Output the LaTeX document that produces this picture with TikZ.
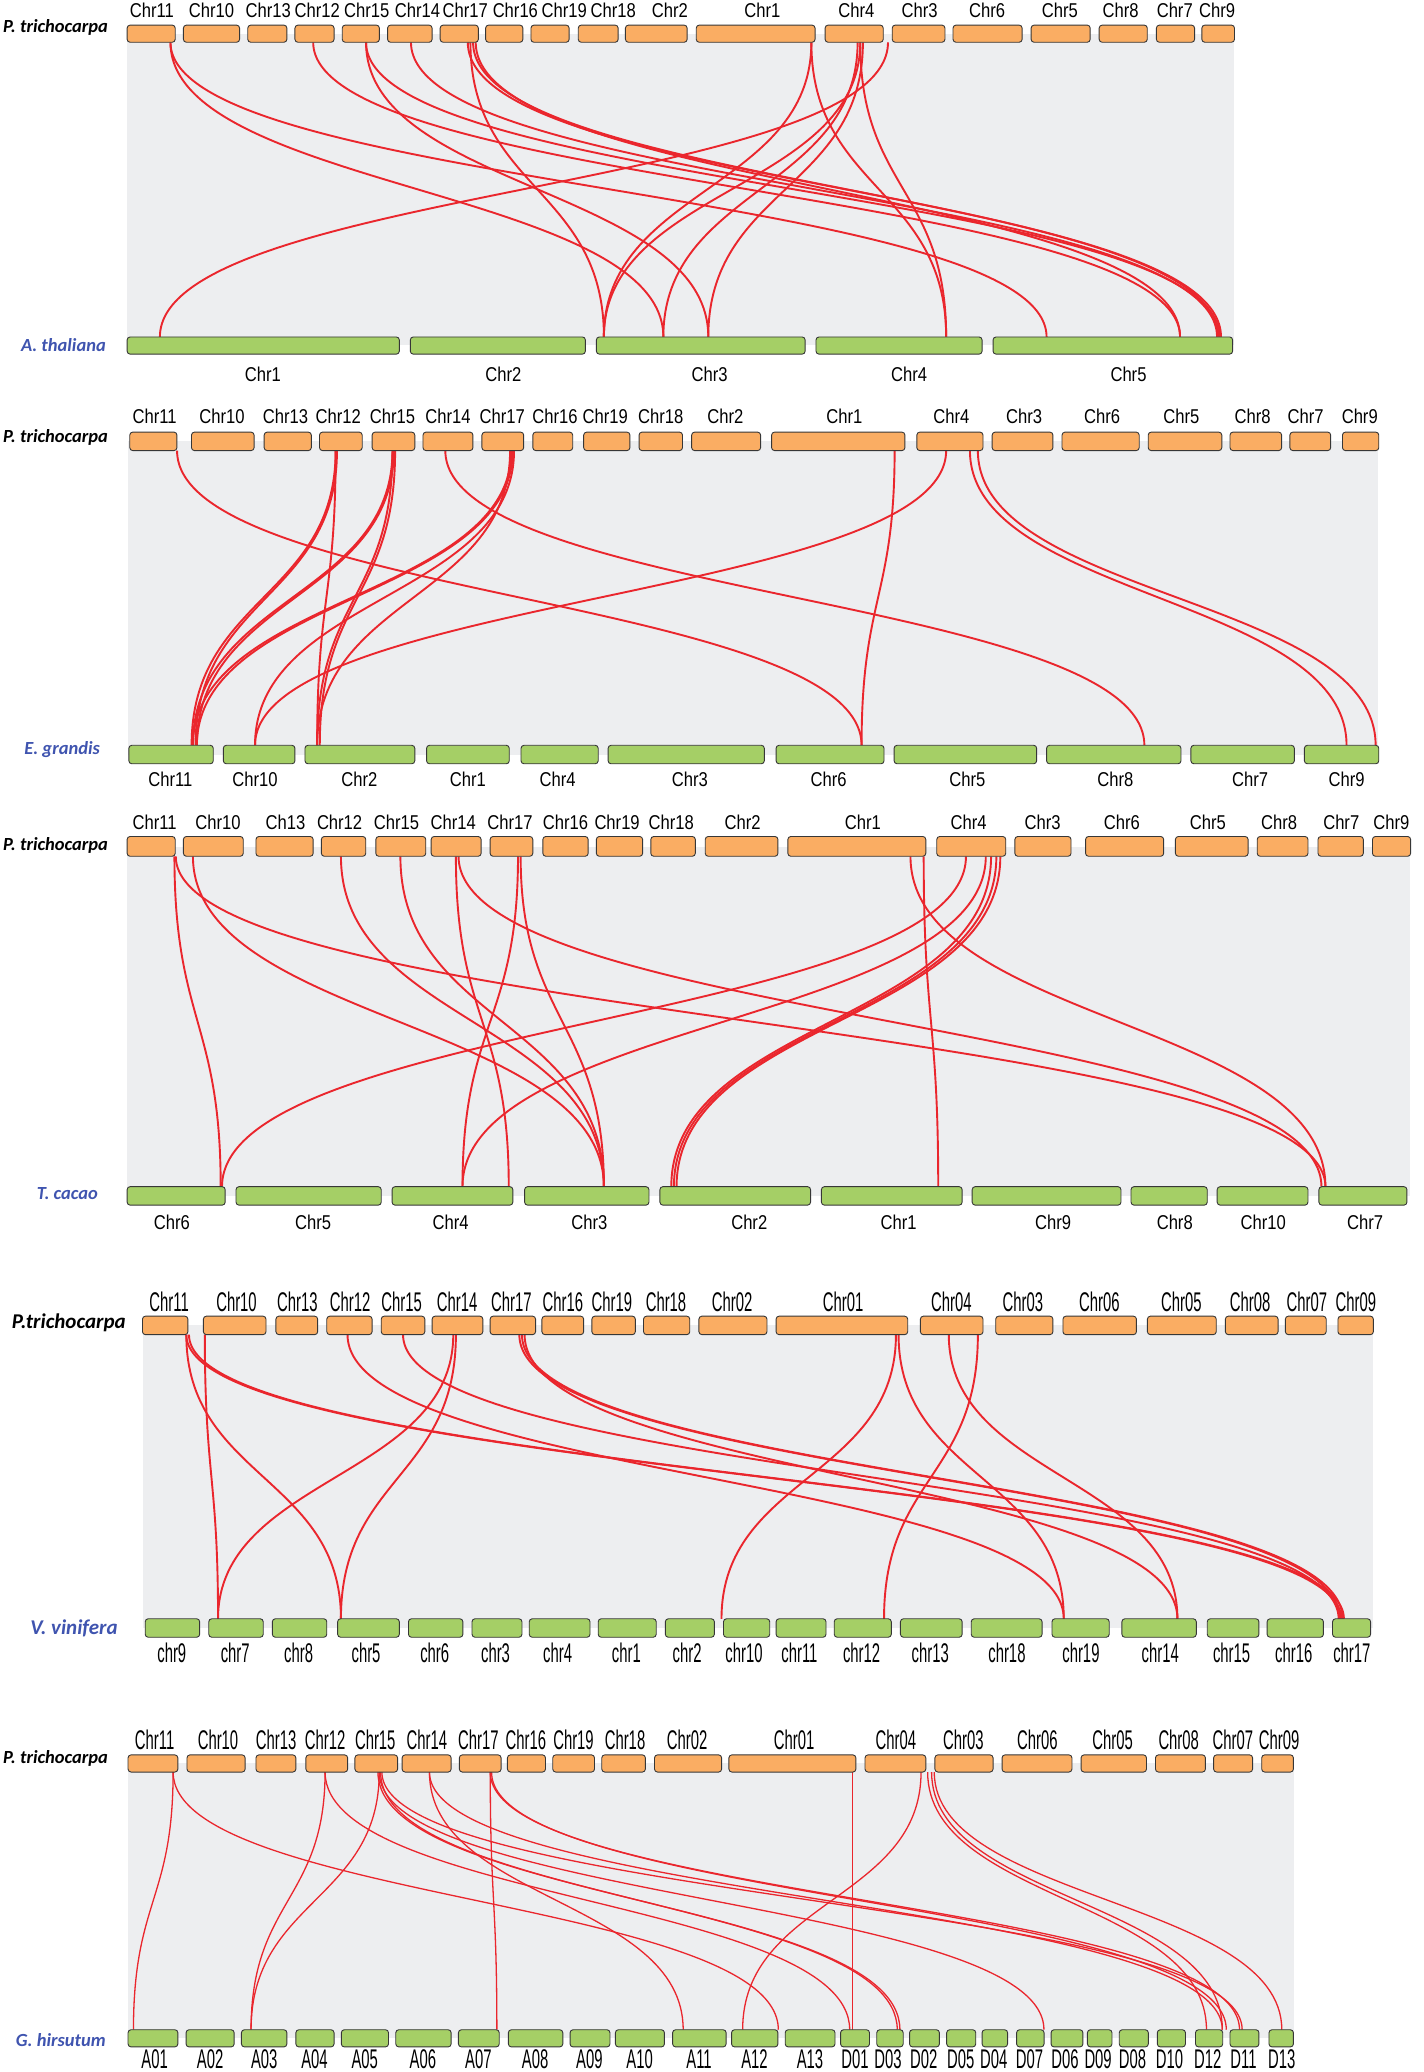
\documentclass[tikz,border=0pt]{standalone}
\usepackage{fontspec}
\setmainfont{Liberation Sans}
\newfontfamily\chrfont[FakeStretch=0.83]{Liberation Sans}
\newfontfamily\narrowfont[FakeStretch=0.55]{Liberation Sans}
\newfontfamily\spfont{Carlito}

\definecolor{porange}{RGB}{250,173,99}
\definecolor{ogreen}{RGB}{165,207,102}
\definecolor{synred}{RGB}{234,38,45}
\definecolor{bandgrey}{RGB}{237,238,240}
\definecolor{spblue}{RGB}{63,84,175}
\definecolor{boxline}{RGB}{55,55,55}

\tikzstyle{ptri} = [fill=porange, draw=boxline, line width=0.9pt, rounded corners=3pt]
\tikzstyle{other} = [fill=ogreen, draw=boxline, line width=0.9pt, rounded corners=3pt]
\tikzstyle{band} = [fill=bandgrey, draw=none]
\tikzstyle{syn} = [draw=synred, line width=1.9pt]
\tikzstyle{thinsyn} = [draw=synred, line width=1.3pt]
\tikzstyle{lab} = [inner sep=0pt, font=\chrfont\fontsize{20}{20}\selectfont]
\tikzstyle{nlab} = [inner sep=0pt, font=\narrowfont\fontsize{27}{27}\selectfont]
\tikzstyle{sp} = [inner sep=0pt, font=\spfont\bfseries\itshape\fontsize{18.5}{18.5}\selectfont]
\tikzstyle{bigsp} = [inner sep=0pt, font=\spfont\bfseries\itshape\fontsize{21}{21}\selectfont]

\begin{document}
\begin{tikzpicture}[x=1.3213pt, y=-1.3213pt]
\useasboundingbox (0,0) rectangle (1077,1568);

% A. thaliana
\fill[band] (96,26) rectangle (934,261);
\foreach \a/\b in {129/502, 129/792, 237/893, 277/536, 277/923, 311/921, 356/457,
	354/924, 358/922, 360/893, 614/457, 614/716, 651/457, 649/502, 653/536, 651/716, 672/121}
	\draw[syn] (\a,32) .. controls (\a,143) and (\b,143) .. (\b,255);
\foreach \n/\a/\b/\l in {Chr11/96.2/132.6/115, Chr10/138.8/181.3/160, Chr13/187.5/217.1/203,
	Chr12/223.2/252.8/240, Chr15/259.0/287.1/277.5, Chr14/293.3/327.0/316, Chr17/333.1/362.0/352,
	Chr16/367.5/395.7/390, Chr19/401.8/430.7/427, Chr18/437.6/467.8/464, Chr2/473.3/520.0/507,
	Chr1/526.9/616.8/577, Chr4/624.4/668.4/648, Chr3/675.2/715.1/696, Chr6/721.2/773.5/747,
	Chr5/780.3/825.0/802, Chr8/831.8/868.2/848, Chr7/875.1/904.0/889, Chr9/909.5/934.2/921}
{
	\draw[ptri] (\a,19) rectangle (\b,32);
	\node[lab] (p1-\n) at (\l,8) {\n};
}
\foreach \n/\a/\b/\l in {Chr1/96.2/302.2/199, Chr2/310.5/443.0/381, Chr3/451.3/609.3/537,
	Chr4/617.5/743.2/688, Chr5/751.5/932.8/854}
{
	\draw[other] (\a,255) rectangle (\b,268);
	\node[lab] (at-\n) at (\l,283) {\n};
}
\node[sp] (ptri1) at (42,21) {P. trichocarpa};
\node[sp, text=spblue] (atha) at (48,261) {A. thaliana};

% E. grandis
\fill[band] (97,334) rectangle (1043,571);
\foreach \a/\b in {134/652, 254/145, 255/148, 254/240, 297/146, 298/149, 297/240, 299/242,
	337/866, 387/146, 388/149, 389/193, 386/240, 677/652, 716/193, 734/1019, 740/1041}
	\draw[syn] (\a,341) .. controls (\a,452) and (\b,452) .. (\b,564);
\foreach \n/\a/\b/\l in {Chr11/98.2/133.9/117, Chr10/144.9/192.3/168, Chr13/199.9/235.6/216,
	Chr12/241.8/274.1/256, Chr15/281.6/313.9/297, Chr14/320.1/357.9/339, Chr17/364.7/396.3/380,
	Chr16/403.2/433.4/420, Chr19/441.7/476.7/458, Chr18/483.6/516.5/500, Chr2/523.4/575.6/549,
	Chr1/583.9/684.8/639, Chr4/693.8/743.9/720, Chr3/750.8/796.8/775, Chr6/803.7/862.1/834,
	Chr5/868.9/924.6/894, Chr8/930.8/969.9/948, Chr7/976.1/1007.0/988, Chr9/1015.9/1043.4/1029}
{
	\draw[ptri] (\a,327) rectangle (\b,341);
	\node[lab] (p2-\n) at (\l,315) {\n};
}
\foreach \n/\a/\b/\l in {Chr11/97.5/161.4/129, Chr10/169.0/223.2/193, Chr2/230.8/313.9/272,
	Chr1/322.8/385.4/354, Chr4/394.3/452.7/422, Chr3/460.2/578.4/522, Chr6/587.3/669.0/627,
	Chr5/676.6/784.5/732, Chr8/792.0/893.7/844, Chr7/901.2/979.5/946, Chr9/987.1/1043.4/1019}
{
	\draw[other] (\a,564) rectangle (\b,578);
	\node[lab] (eg-\n) at (\l,590) {\n};
}
\node[sp] (ptri2) at (42,331) {P. trichocarpa};
\node[sp, text=spblue] (egra) at (47,567) {E. grandis};

% T. cacao
\fill[band] (96,641) rectangle (1067,905);
\foreach \a/\b in {132/167, 133/1003, 146/457, 258/457, 303/457, 345/385, 347/1000, 392/350,
	394/457, 699/710, 689/1003, 731/168, 746/350, 750/508, 754/510, 757/512}
	\draw[syn] (\a,648) .. controls (\a,773) and (\b,773) .. (\b,898);
\foreach \n/\a/\b/\l in {Chr11/96.2/132.6/117, Chr10/138.8/184.1/165, Ch13/193.7/237.0/216,
	Chr12/243.2/276.8/257, Chr15/284.4/322.2/300, Chr14/326.3/364.1/343, Chr17/370.9/403.2/386,
	Chr16/410.8/445.1/428, Chr19/451.3/486.3/467, Chr18/492.5/526.2/508, Chr2/533.7/588.7/562,
	Chr1/596.2/700.6/653, Chr4/708.9/761.1/733, Chr3/768.0/810.5/789, Chr6/821.5/880.6/849,
	Chr5/889.5/944.5/914, Chr8/951.4/989.8/968, Chr7/997.4/1031.7/1015, Chr9/1038.6/1067.5/1053}
{
	\draw[ptri] (\a,633) rectangle (\b,648);
	\node[lab] (p3-\n) at (\l,622) {\n};
}
\foreach \n/\a/\b/\l in {Chr6/96.2/170.4/130, Chr5/178.6/288.5/237, Chr4/296.7/388.1/341,
	Chr3/397.0/491.1/446, Chr2/499.4/613.4/567, Chr1/621.6/728.1/680, Chr9/735.7/848.3/797,
	Chr8/855.9/913.6/889, Chr10/921.1/989.8/956, Chr7/998.1/1064.7/1033}
{
	\draw[other] (\a,898) rectangle (\b,912);
	\node[lab] (tc-\n) at (\l,925) {\n};
}
\node[sp] (ptri3) at (42,640) {P. trichocarpa};
\node[sp, text=spblue] (tcac) at (51,903) {T. cacao};

% V. vinifera
\fill[band] (108,1003) rectangle (1039,1232);
\foreach \a/\b in {155/165, 141/258, 141/1015, 143/1017, 263/805, 305/1013, 343/165, 345/258,
	393/1014, 395/1016, 397/891, 678/546, 680/805, 718/891, 740/669}
	\draw[syn] (\a,1010) .. controls (\a,1118) and (\b,1118) .. (\b,1225);
\foreach \n/\a/\b/\l in {Chr11/107.8/142.2/128, Chr10/153.9/201.3/179, Chr13/208.8/240.4/225,
	Chr12/247.3/281.6/265, Chr15/288.5/321.5/304, Chr14/327.0/365.4/346, Chr17/370.9/405.3/387,
	Chr16/410.1/441.7/426, Chr19/447.9/480.8/463, Chr18/487.0/522.0/504, Chr02/528.9/580.4/554,
	Chr01/587.3/686.9/638, Chr04/696.5/743.9/720, Chr03/753.5/796.8/774, Chr06/804.4/860.0/832,
	Chr05/868.3/920.4/894, Chr08/927.3/967.2/946, Chr07/972.7/1003.6/989, Chr09/1012.5/1039.3/1026}
{
	\draw[ptri] (\a,996) rectangle (\b,1010);
	\node[nlab] (p4-\n) at (\l,985) {\n};
}
\foreach \n/\a/\b/\l in {chr9/109.9/151.1/130, chr7/158.0/199.2/178, chr8/206.1/247.3/226,
	chr5/255.5/302.2/277, chr6/309.1/350.3/329, chr3/357.2/395.0/375, chr4/400.5/446.5/422,
	chr1/452.7/496.6/474, chr2/503.5/540.6/520, chr10/547.5/582.5/563, chr11/587.3/625.1/605,
	chr12/631.3/674.5/652, chr13/681.4/728.1/704, chr18/735.0/788.6/762, chr19/796.1/839.4/818,
	chr14/849.0/905.3/878, chr15/913.6/952.7/932, chr16/958.9/1001.5/979, chr17/1008.4/1037.2/1023}
{
	\draw[other] (\a,1225) rectangle (\b,1239);
	\node[nlab] (vv-\n) at (\l,1251) {\n};
}
\node[bigsp] (ptri4) at (52,1001) {P.trichocarpa};
\node[bigsp, text=spblue] (vvin) at (56,1232) {V. vinifera};

% G. hirsutum
\fill[band] (97,1334) rectangle (979,1542);
\foreach \a/\b in {131/101, 131/589, 246/190, 246/643, 287/190, 288/679, 286/681, 287/790,
	289/940, 325/517, 325/925, 371/376, 371/938, 372/928, 645/645, 697/562, 702/913, 705/925, 707/970}
	\draw[thinsyn] (\a,1341) .. controls (\a,1438) and (\b,1438) .. (\b,1536);
\foreach \n/\a/\b/\l in {Chr11/96.9/134.6/117, Chr10/141.5/185.5/165, Chr13/193.7/223.9/209,
	Chr12/231.5/263.1/246, Chr15/268.6/300.9/284, Chr14/304.3/341.4/323, Chr17/347.6/379.2/362,
	Chr16/384.0/412.8/398, Chr19/418.3/449.9/434, Chr18/455.4/488.4/473, Chr02/495.3/546.1/520,
	Chr01/551.6/647.7/601, Chr04/654.6/700.6/678, Chr03/707.5/751.5/729, Chr06/758.3/811.2/785,
	Chr05/818.1/867.6/842, Chr08/874.4/912.2/892, Chr07/918.4/947.9/933, Chr09/954.8/978.8/968}
{
	\draw[ptri] (\a,1328) rectangle (\b,1341);
	\node[nlab] (p5-\n) at (\l,1317) {\n};
}
\foreach \n/\a/\b/\l in {A01/96.9/134.6/117, A02/140.8/177.2/159, A03/182.7/217.1/200,
	A04/223.9/252.8/238, A05/258.3/294.0/276, A06/299.5/341.4/320, A07/346.9/377.8/362,
	A08/384.7/425.9/405, A09/431.4/461.6/446, A10/465.7/502.8/484, A11/509.0/549.5/529,
	A12/553.6/588.7/571, A13/594.2/631.9/613, D01/636.1/658.0/647, D03/663.5/683.5/672,
	D02/688.3/710.9/699, D05/716.4/738.4/727, D04/743.2/762.5/752, D07/769.3/790.1/779,
	D06/795.4/819.5/806, D09/822.9/841.5/831, D08/847.0/869.0/857, D10/875.8/897.1/885,
	D12/904.7/925.3/914, D11/930.8/952.7/941, D13/960.3/978.8/970}
{
	\draw[other] (\a,1536) rectangle (\b,1549);
	\node[nlab] (gh-\n) at (\l,1558) {\n};
}
\node[sp] (ptri5) at (42,1331) {P. trichocarpa};
\node[sp, text=spblue] (ghir) at (46,1544) {G. hirsutum};
\end{tikzpicture}
\end{document}
